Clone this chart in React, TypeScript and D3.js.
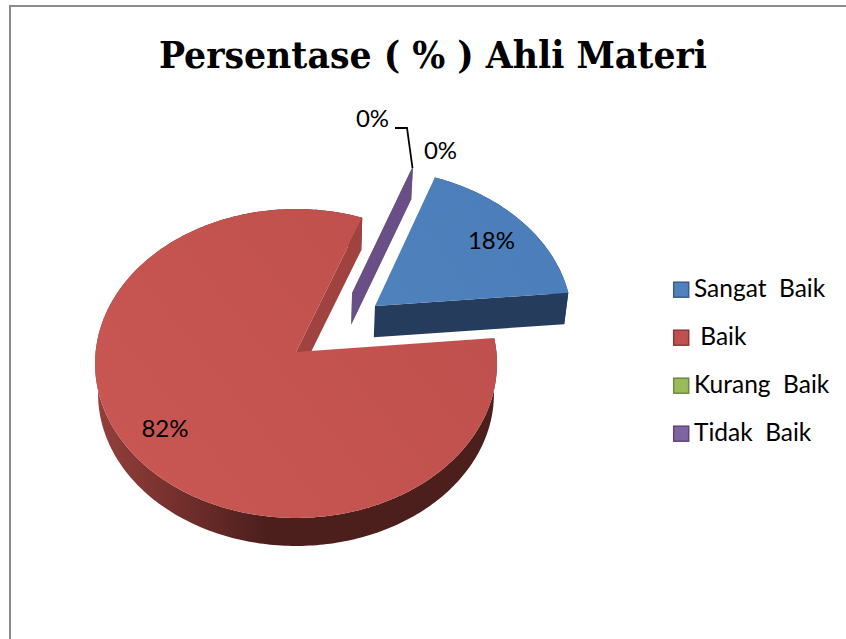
import React from "react";
import * as d3 from "d3";

const categories = ["Sangat  Baik", " Baik", "Kurang  Baik", "Tidak  Baik"];
const percentValues = [17.8, 82.2, 0, 0];
const sliceLabels = ["18%", "82%", "0%", "0%"];
const faceColors = ["url(#blueFace)", "url(#redFace)", "#9bbb59", "#6a4e88"];
const endWallColors = ["#263c5c", "#a0423f", "#76923c", "#6a4e88"];
const outerWallColors = ["#263c5c", "url(#redWall)", "#4e5f2c", "#6a4e88"];
const legendFill = ["#4f81bd", "#c0504d", "#9bbb59", "#8064a2"];
const legendStroke = ["#385d8a", "#8c3836", "#71893f", "#5c4776"];
const explodeAmount = [0.506, 0, 0.489, 0.489];
const explodeAngle = [52.8, 0, 36.1, 36.1];
const labelX = [491.5, 165, 440.5, 372.5];
const labelY = [239.5, 427.5, 149.5, 117.5];
const firstSliceDeg = 20.7;

const W = 846, H = 639;
const cx = 296, cy = 352, persp = -0.0744, scaleY = 153.6, scaleX = 200.4;
const depth = 30.5, bottomScale = 0.985;

const rad = (d: number) => (d * Math.PI) / 180;
type P = [number, number];
const top = (u: number, v: number): P => {
  const w = 1 + persp * v;
  return [cx + (scaleX * u) / w, cy + (scaleY * v) / w];
};
const bottom = ([x, y]: P): P => [
  cx + (x - cx) * bottomScale,
  cy + depth + (y - cy) * bottomScale,
];

const pie = d3
  .pie<number>()
  .sort(null)
  .startAngle(rad(firstSliceDeg))
  .endAngle(rad(firstSliceDeg) + 2 * Math.PI);
const arcs = pie(percentValues);
const line = d3.line<P>().curve(d3.curveLinear);

const slices = arcs.map((a, i) => {
  const ex = explodeAmount[i] * Math.sin(rad(explodeAngle[i]));
  const ey = -explodeAmount[i] * Math.cos(rad(explodeAngle[i]));
  const apex = top(ex, ey);
  const n = Math.max(2, Math.ceil((a.endAngle - a.startAngle) * 60));
  const rim: P[] = d3
    .range(n + 1)
    .map((k) => a.startAngle + ((a.endAngle - a.startAngle) * k) / n)
    .map((t) => top(ex + Math.sin(t), ey - Math.cos(t)));
  const last = rim[rim.length - 1];
  return {
    face: line([apex, ...rim])! + "Z",
    outer: line([...rim, ...rim.map(bottom).reverse()])! + "Z",
    endWall: line([apex, last, bottom(last), bottom(apex)])! + "Z",
  };
});

const leaderPoints: P[] = [[395, 128], [407, 128], [412.5, 168]];
const legendY = [289.7, 337.7, 385.7, 433.7];

export default function App() {
  const drawOrder = [1, 0, 2, 3];
  return (
    <svg
      width={W}
      height={H}
      viewBox={`0 0 ${W} ${H}`}
      style={{ position: "absolute", left: 0, top: 0, background: "#fff" }}
    >
      <defs>
        <linearGradient id="redWall" gradientUnits="userSpaceOnUse" x1="95" y1="0" x2="265" y2="0">
          <stop offset="0" stopColor="#95403c" />
          <stop offset="0.5" stopColor="#732f2c" />
          <stop offset="1" stopColor="#4c1f1d" />
        </linearGradient>
        <linearGradient id="redFace" gradientUnits="userSpaceOnUse" x1="150" y1="500" x2="480" y2="240">
          <stop offset="0" stopColor="#c85753" />
          <stop offset="1" stopColor="#bf4f4c" />
        </linearGradient>
        <linearGradient id="blueFace" gradientUnits="userSpaceOnUse" x1="380" y1="300" x2="560" y2="190">
          <stop offset="0" stopColor="#4f81bd" />
          <stop offset="1" stopColor="#4a7db9" />
        </linearGradient>
      </defs>

      <path d={`M10 639V6H846`} fill="none" stroke="#8c8c8c" strokeWidth={2} />

      <text
        x={433}
        y={68}
        textAnchor="middle"
        fontFamily="'DejaVu Serif Condensed', 'DejaVu Serif', serif"
        fontWeight="bold"
        fontSize={38}
        textLength={548}
        lengthAdjust="spacingAndGlyphs"
        fill="#000"
      >
        Persentase ( % ) Ahli Materi
      </text>

      {drawOrder.map((i) => (
        <g key={categories[i]}>
          <path d={slices[i].outer} fill={outerWallColors[i]} />
          <path d={slices[i].endWall} fill={endWallColors[i]} />
          <path d={slices[i].face} fill={faceColors[i]} />
        </g>
      ))}

      <path d={line(leaderPoints)!} fill="none" stroke="#000" strokeWidth={1.8} />

      {sliceLabels.map((t, i) => (
        <text
          key={i}
          x={labelX[i]}
          y={labelY[i]}
          textAnchor="middle"
          dominantBaseline="central"
          fontFamily="Lato, Carlito, sans-serif"
          fontSize={24}
          fill="#000"
        >
          {t}
        </text>
      ))}

      {categories.map((c, i) => (
        <g key={c}>
          <rect
            x={673.7}
            y={legendY[i] - 7.5}
            width={15}
            height={15}
            fill={legendFill[i]}
            stroke={legendStroke[i]}
            strokeWidth={1.5}
          />
          <text
            x={694}
            y={legendY[i] - 2}
            dominantBaseline="central"
            fontFamily="Lato, Carlito, sans-serif"
            fontSize={24.5}
            fill="#000"
            style={{ whiteSpace: "pre" }}
          >
            {c}
          </text>
        </g>
      ))}
    </svg>
  );
}
